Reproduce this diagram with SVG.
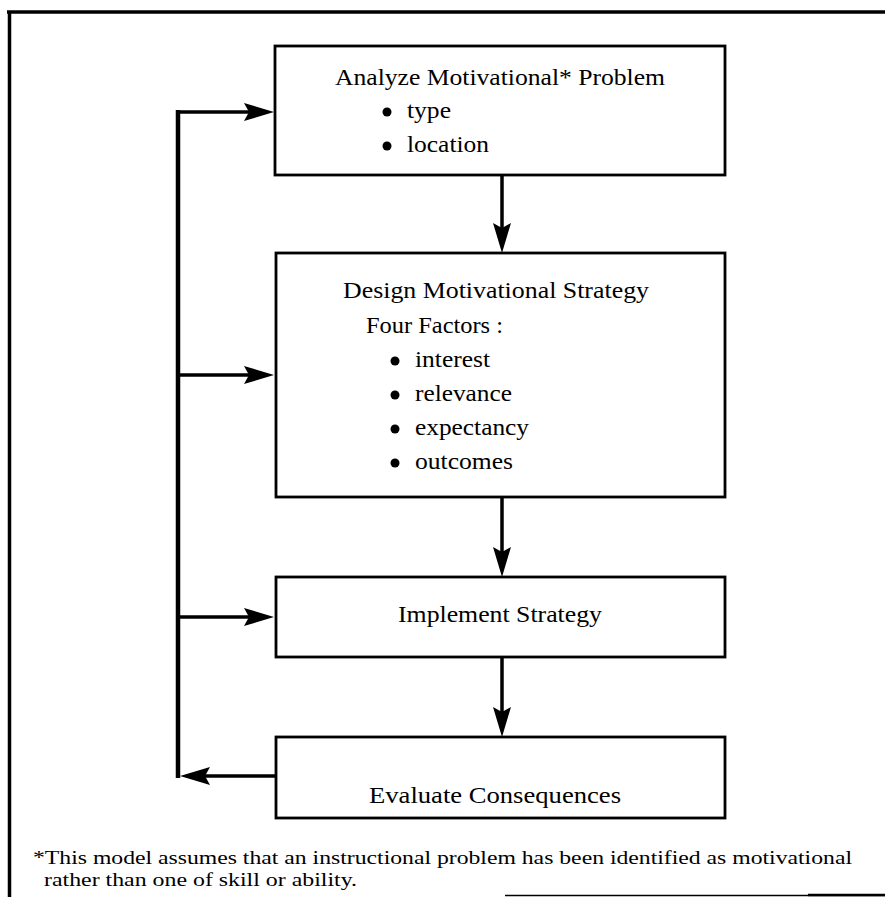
<svg xmlns="http://www.w3.org/2000/svg" width="885" height="897" viewBox="0 0 885 897">
  <style>
    .frame { fill: none; stroke: #000; stroke-width: 3.5; }
    .box { fill: #fff; stroke: #000; stroke-width: 2.8; }
    .label { font-family: "Liberation Serif", "Times New Roman", serif; font-size: 24px; fill: #000; }
    .note { font-family: "Liberation Serif", "Times New Roman", serif; font-size: 19px; fill: #000; }
    .link { fill: none; stroke: #000; stroke-width: 3.5; }
    .loop { fill: none; stroke: #000; stroke-width: 4.5; }
    .dot { fill: #000; }
  </style>
  <defs>
    <marker id="head" viewBox="-32 -10 34 20" refX="-8" refY="0" markerWidth="34" markerHeight="20" markerUnits="userSpaceOnUse" orient="auto">
      <path d="M0,0 L-30,-9 L-25,0 L-30,9 Z" fill="#000"/>
    </marker>
  </defs>

  <rect width="885" height="897" fill="#fff"/>

  <!-- page frame -->
  <g id="frame">
    <path class="frame" d="M7,12 L885,12"/>
    <path class="frame" d="M9.5,11 L9.5,897" stroke-width="4"/>
    <path d="M505,895.5 L885,895.5" stroke="#000" stroke-width="1.5"/>
    <path d="M808,895 L885,895" stroke="#000" stroke-width="2.5"/>
  </g>

  <!-- connectors -->
  <g id="connectors">
    <path class="link" d="M502,175 L502,245" marker-end="url(#head)"/>
    <path class="link" d="M502,497 L502,569" marker-end="url(#head)"/>
    <path class="link" d="M502,657 L502,729" marker-end="url(#head)"/>
    <!-- feedback loop -->
    <path class="link" d="M275,776 L188,776" marker-end="url(#head)"/>
    <path class="loop" d="M178,778 L178,110"/>
    <path class="link" d="M176,112 L266,112" marker-end="url(#head)"/>
    <path class="link" d="M178,375 L266,375" marker-end="url(#head)"/>
    <path class="link" d="M178,617 L266,617" marker-end="url(#head)"/>
  </g>

  <g id="analyze">
    <rect class="box" x="275" y="46" width="450" height="129"/>
    <text class="label" x="335" y="85" textLength="330" lengthAdjust="spacingAndGlyphs">Analyze Motivational* Problem</text>
    <circle class="dot" cx="387" cy="112" r="4.5"/>
    <text class="label" x="407" y="118" textLength="44" lengthAdjust="spacingAndGlyphs">type</text>
    <circle class="dot" cx="387" cy="146" r="4.5"/>
    <text class="label" x="407" y="152" textLength="82" lengthAdjust="spacingAndGlyphs">location</text>
  </g>

  <g id="design">
    <rect class="box" x="276" y="253" width="449" height="244"/>
    <text class="label" x="343" y="298" textLength="306" lengthAdjust="spacingAndGlyphs">Design Motivational Strategy</text>
    <text class="label" x="366" y="333" textLength="137" lengthAdjust="spacingAndGlyphs">Four Factors :</text>
    <circle class="dot" cx="395" cy="361" r="4.5"/>
    <text class="label" x="415" y="367" textLength="75" lengthAdjust="spacingAndGlyphs">interest</text>
    <circle class="dot" cx="395" cy="395" r="4.5"/>
    <text class="label" x="415" y="401" textLength="97" lengthAdjust="spacingAndGlyphs">relevance</text>
    <circle class="dot" cx="395" cy="429" r="4.5"/>
    <text class="label" x="415" y="435" textLength="114" lengthAdjust="spacingAndGlyphs">expectancy</text>
    <circle class="dot" cx="395" cy="463" r="4.5"/>
    <text class="label" x="415" y="469" textLength="98" lengthAdjust="spacingAndGlyphs">outcomes</text>
  </g>

  <g id="implement">
    <rect class="box" x="276" y="577" width="449" height="80"/>
    <text class="label" x="398" y="622" textLength="204" lengthAdjust="spacingAndGlyphs">Implement Strategy</text>
  </g>

  <g id="evaluate">
    <rect class="box" x="276" y="737" width="449" height="81"/>
    <text class="label" x="369" y="803" textLength="252" lengthAdjust="spacingAndGlyphs">Evaluate Consequences</text>
  </g>

  <g id="footnote">
    <text class="note" x="33" y="864" textLength="819" lengthAdjust="spacingAndGlyphs">*This model assumes that an instructional problem has been identified as motivational</text>
    <text class="note" x="44" y="886" textLength="313" lengthAdjust="spacingAndGlyphs">rather than one of skill or ability.</text>
  </g>
</svg>
